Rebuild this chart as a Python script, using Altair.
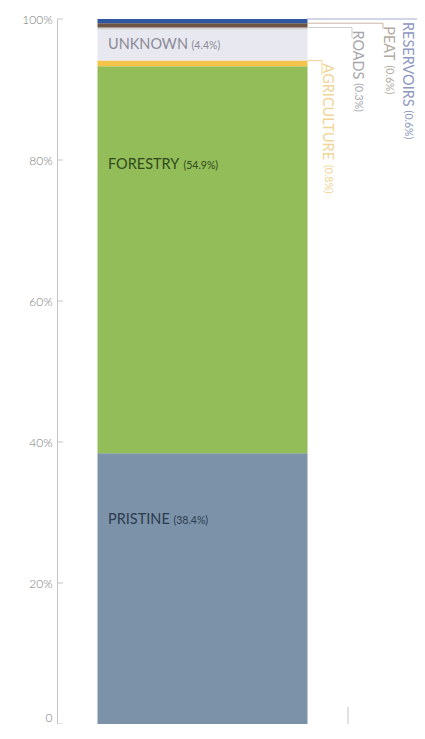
import altair as alt
import pandas as pd

# ---- data ----
categories = ["PRISTINE", "FORESTRY", "AGRICULTURE", "UNKNOWN", "ROADS", "PEAT", "RESERVOIRS"]
shares = [38.4, 54.9, 0.8, 4.4, 0.3, 0.6, 0.6]
inside_labels = ["PRISTINE", "FORESTRY", "UNKNOWN"]
inside_label_at = [28.9, 79.3, 96.3]
outside_labels = ["AGRICULTURE", "ROADS", "PEAT", "RESERVOIRS"]
y_ticks = [0, 20, 40, 60, 80, 100]

# ---- styles ----
FONT = "Lato"
NAME_SIZE = 14.5
PCT_SIZE = 10.5
seg_color = {
    "PRISTINE": "#7b92a8", "FORESTRY": "#93bd58", "AGRICULTURE": "#f4c44a",
    "UNKNOWN": "#e8e8f0", "ROADS": "#cfcfd4", "PEAT": "#6e5442", "RESERVOIRS": "#2f56a0",
}
inside_text_color = {"PRISTINE": "#2c3b50", "FORESTRY": "#2f4a1d", "UNKNOWN": "#8a8a96"}
out_text_color = {"AGRICULTURE": "#f0d597", "ROADS": "#a6a6ab", "PEAT": "#b3aa9f", "RESERVOIRS": "#8e97c2"}
out_line_color = {"AGRICULTURE": "#f3d592", "ROADS": "#cdcdcd", "PEAT": "#c9b7a5", "RESERVOIRS": "#a3abd0"}
out_tick_x = {"AGRICULTURE": 265, "ROADS": 295, "PEAT": 326, "RESERVOIRS": 360}
out_text_x = {"AGRICULTURE": 270, "ROADS": 300, "PEAT": 331, "RESERVOIRS": 350}
out_tick_len = {"AGRICULTURE": 2.0, "ROADS": 1.5, "PEAT": 0.8, "RESERVOIRS": 0.0}
BAR_RIGHT = 250
INSIDE_X = 51
W, H = 291, 705
AXIS_COLOR = "#c4c4c4"

# approximate Lato advance widths (em)
CW = {"A": .68, "B": .63, "C": .66, "D": .74, "E": .57, "F": .55, "G": .72, "H": .76, "I": .28,
      "K": .67, "L": .5, "N": .76, "O": .8, "P": .6, "R": .63, "S": .53, "T": .6, "U": .73,
      "V": .68, "W": 1.02, "Y": .63, " ": .26}


def text_w(s, size):
    return sum(CW.get(ch, .6) for ch in s) * size


# ---- tables ----
ends, acc = [], 0.0
for v in shares:
    acc = round(acc + v, 4)
    ends.append(acc)
starts = [round(e - v, 4) for e, v in zip(ends, shares)]
bars = pd.DataFrame({
    "cat": categories, "start": starts, "end": ends,
    "g": ["all"] * len(categories),
    "color": [seg_color[c] for c in categories],
})

share_of = dict(zip(categories, shares))
end_of = dict(zip(categories, ends))
px_per_unit = H / 100.0

inside = pd.DataFrame({
    "name": inside_labels,
    "pct": [f"({share_of[c]}%)" for c in inside_labels],
    "at": inside_label_at,
    "nx": [INSIDE_X] * len(inside_labels),
    "px": [INSIDE_X + text_w(c + " ", NAME_SIZE) for c in inside_labels],
    "color": [inside_text_color[c] for c in inside_labels],
})

outside = pd.DataFrame({
    "name": outside_labels,
    "pct": [f"({share_of[c]}%)" for c in outside_labels],
    "end": [end_of[c] for c in outside_labels],
    "pend": [end_of[c] - text_w(c + " ", NAME_SIZE) / px_per_unit for c in outside_labels],
    "tick_end": [end_of[c] - out_tick_len[c] for c in outside_labels],
    "x0": [BAR_RIGHT] * len(outside_labels),
    "tx": [out_tick_x[c] for c in outside_labels],
    "lx": [out_text_x[c] for c in outside_labels],
    "tcolor": [out_text_color[c] for c in outside_labels],
    "lcolor": [out_line_color[c] for c in outside_labels],
})
ticks = pd.DataFrame({"v": y_ticks})

yscale = alt.Scale(domain=[0, 100], nice=False, zero=True)
yax = alt.Axis(values=y_ticks, labelExpr="datum.value == 0 ? '0' : datum.value + '%'",
               ticks=False, grid=False, title=None, domainColor=AXIS_COLOR,
               labelColor="#7a7a7a", labelFont=FONT, labelFontSize=12,
               labelBaseline={"condition": {"test": "datum.value == 0", "value": "bottom"},
                              "value": "middle"},
               labelPadding=5, labelFontWeight=300)


def Y(field):
    return alt.Y(field, scale=yscale, axis=yax)


bar = alt.Chart(bars).mark_bar(size=210).encode(
    x=alt.X("g:N", scale=alt.Scale(paddingOuter=0.193, paddingInner=0),
            axis=alt.Axis(labels=False, ticks=False, title=None, domainColor=AXIS_COLOR, domainWidth=1)),
    y=Y("start:Q"),
    y2="end:Q",
    color=alt.Color("color:N", scale=None),
)

tick_rules = alt.Chart(ticks).mark_rule(color=AXIS_COLOR, strokeWidth=1).encode(
    y=Y("v:Q"), x=alt.value(0), x2=alt.value(6)
)

corner = alt.Chart(ticks).transform_filter("datum.v == 0").transform_calculate(top="2.4").mark_rule(
    color=AXIS_COLOR, strokeWidth=1).encode(
    x=alt.value(W), y=Y("v:Q"), y2="top:Q"
)

inside_name = alt.Chart(inside).mark_text(align="left", baseline="middle", font=FONT,
                                          fontSize=NAME_SIZE).encode(
    x=alt.X("nx:Q", scale=None), y=Y("at:Q"), text="name:N",
    color=alt.Color("color:N", scale=None),
)
inside_pct = alt.Chart(inside).mark_text(align="left", baseline="middle", font=FONT,
                                         fontSize=PCT_SIZE, dy=1).encode(
    x=alt.X("px:Q", scale=None), y=Y("at:Q"), text="pct:N",
    color=alt.Color("color:N", scale=None),
)

lead_h = alt.Chart(outside).mark_rule(strokeWidth=1).encode(
    x=alt.X("x0:Q", scale=None), x2="tx:Q",
    y=Y("end:Q"),
    color=alt.Color("lcolor:N", scale=None),
)
lead_v = alt.Chart(outside).mark_rule(strokeWidth=1).encode(
    x=alt.X("tx:Q", scale=None),
    y=Y("end:Q"), y2="tick_end:Q",
    color=alt.Color("lcolor:N", scale=None),
)
out_name = alt.Chart(outside).mark_text(angle=90, align="left", baseline="middle", dx=3,
                                        font=FONT, fontSize=NAME_SIZE).encode(
    x=alt.X("lx:Q", scale=None),
    y=Y("end:Q"), text="name:N",
    color=alt.Color("tcolor:N", scale=None),
)
out_pct = alt.Chart(outside).mark_text(angle=90, align="left", baseline="middle", dx=3, dy=-1,
                                       font=FONT, fontSize=PCT_SIZE).encode(
    x=alt.X("lx:Q", scale=None),
    y=Y("pend:Q"), text="pct:N",
    color=alt.Color("tcolor:N", scale=None),
)

chart = alt.layer(bar, tick_rules, corner, lead_h, lead_v, out_name, out_pct,
                  inside_name, inside_pct).properties(
    width=W, height=H,
    autosize=alt.AutoSizeParams(type="none"),
    padding={"left": 49, "top": 11, "right": 69, "bottom": 0},
).configure_view(stroke=None)

chart.save("out.html", embed_options={"renderer": "svg", "actions": False})
